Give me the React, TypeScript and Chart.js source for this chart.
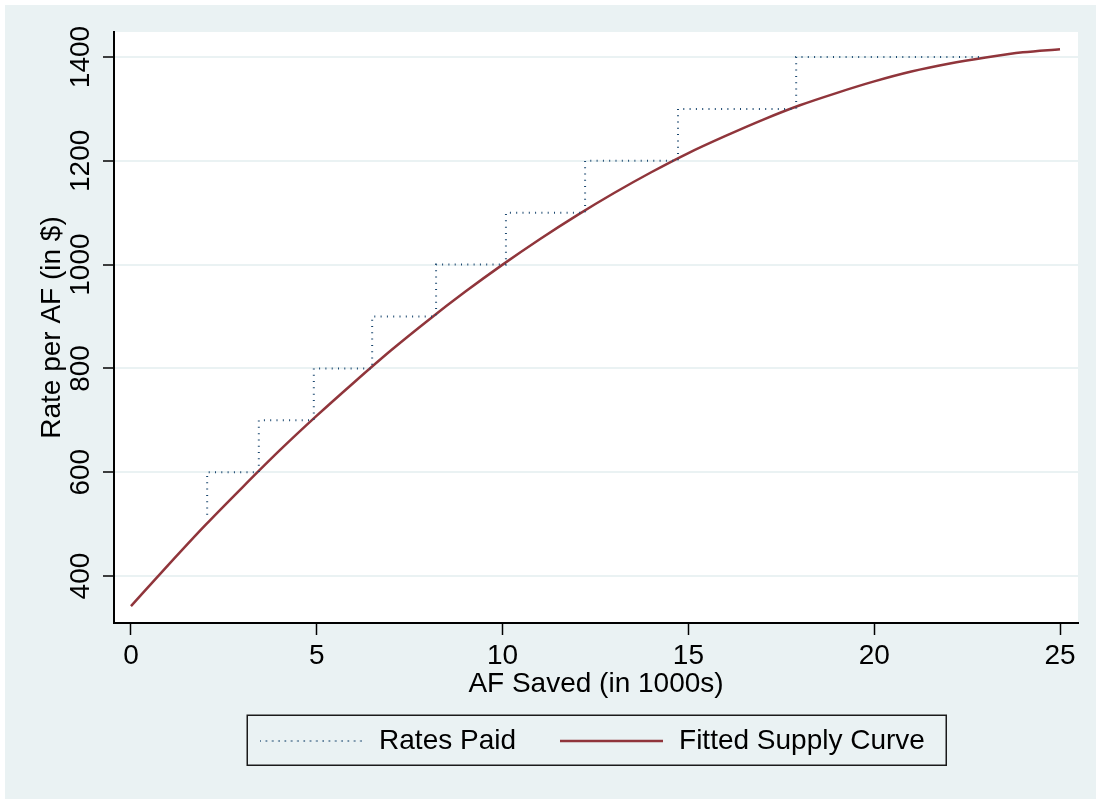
import React, { useEffect, useRef } from 'react';
import { Chart, registerables } from 'chart.js';

Chart.register(...registerables);

// ---- data ----
const seriesLabels = ['Rates Paid', 'Fitted Supply Curve'];
const xTitle = 'AF Saved (in 1000s)';
const yTitle = 'Rate per AF (in $)';

const xTicks = [0, 5, 10, 15, 20, 25];
const yTicks = [400, 600, 800, 1000, 1200, 1400];

// staircase "Rates Paid" corner points (horizontal run, then vertical rise)
const stepX = [2.05, 2.05, 3.44, 4.92, 6.49, 8.21, 10.09, 12.22, 14.72, 17.9, 22.85];
const stepY = [518, 600, 700, 800, 900, 1000, 1100, 1200, 1300, 1400, 1400];

// fitted supply curve read at integer x
const curveX = [0, 1, 2, 3, 4, 5, 6, 7, 8, 9, 10, 11, 12, 13, 14, 15, 16, 17, 18, 19, 20, 21, 22, 23, 24, 25];
const curveY = [342, 421, 498, 571, 642, 709, 773, 835, 893, 948, 1000, 1049, 1095, 1138, 1178, 1215, 1248, 1279, 1307, 1331, 1353, 1372, 1387, 1399, 1409, 1415];

const FONT_FAMILY = '"Liberation Sans", Arial, Helvetica, sans-serif';
const FONT_SIZE = 28;
const LEGEND_PAD = 41;
const LEGEND_BOX_W = 108;
const SAMPLE_W = 103;
const LEGEND_SHIFT = -5;

const NAVY = '#1a476f';
const MAROON = '#90353b';

function makeSample(color: string, width: number, dash: number[]) {
  const c = document.createElement('canvas');
  c.width = SAMPLE_W;
  c.height = 6;
  const g = c.getContext('2d')!;
  g.strokeStyle = color;
  g.lineWidth = width;
  g.setLineDash(dash);
  g.beginPath();
  g.moveTo(0, 3);
  g.lineTo(SAMPLE_W, 3);
  g.stroke();
  return c;
}

const bgPlugin = {
  id: 'stataBg',
  afterLayout(chart: any) {
    const lg = chart.legend;
    if (lg) {
      lg.left += LEGEND_SHIFT;
      lg.right += LEGEND_SHIFT;
    }
  },
  beforeDraw(chart: any) {
    const { ctx, width, height, chartArea } = chart;
    ctx.save();
    ctx.fillStyle = '#ffffff';
    ctx.fillRect(0, 0, width, height);
    ctx.fillStyle = '#eaf2f3';
    ctx.fillRect(5, 5, width - 5, height - 5);
    ctx.fillStyle = '#ffffff';
    ctx.fillRect(chartArea.left, chartArea.top, chartArea.right - chartArea.left, chartArea.bottom - chartArea.top);
    ctx.restore();
  },
  afterDraw(chart: any) {
    const lg = chart.legend;
    if (!lg || !lg.lineWidths) return;
    const { ctx } = chart;
    const lw = lg.lineWidths[0];
    const startX = (lg.left + LEGEND_PAD + lg.right - lw) / 2;
    const endX = startX + lw - LEGEND_PAD;
    const cy = lg.top + LEGEND_PAD + FONT_SIZE / 2;
    ctx.save();
    ctx.strokeStyle = '#1a1a1a';
    ctx.lineWidth = 1.5;
    ctx.setLineDash([]);
    ctx.strokeRect(Math.round(startX - 10) + 0.25, Math.round(cy - 26) + 0.25, Math.round(endX - startX + 31), 50);
    ctx.restore();
  },
};

export default function App() {
  const ref = useRef<HTMLCanvasElement>(null);

  useEffect(() => {
    const canvas = ref.current;
    if (!canvas) return;
    const font = { family: FONT_FAMILY, size: FONT_SIZE };
    const samples = [makeSample(NAVY, 2, [1, 5.3]), makeSample(MAROON, 2.5, [])];
    const chart = new Chart(canvas, {
      type: 'line',
      data: {
        datasets: [
          {
            label: seriesLabels[0],
            data: stepX.map((x, i) => ({ x, y: stepY[i] })),
            borderColor: NAVY,
            backgroundColor: NAVY,
            borderWidth: 2,
            borderDash: [1, 5.3],
            stepped: 'before',
            fill: false,
            pointRadius: 0,
          },
          {
            label: seriesLabels[1],
            data: curveX.map((x, i) => ({ x, y: curveY[i] })),
            borderColor: MAROON,
            backgroundColor: MAROON,
            borderWidth: 2.5,
            cubicInterpolationMode: 'monotone',
            fill: false,
            pointRadius: 0,
          },
        ],
      },
      options: {
        responsive: false,
        animation: false,
        devicePixelRatio: 1,
        layout: { padding: { left: 5, top: 32, right: 18, bottom: 34 } },
        plugins: {
          legend: {
            display: true,
            position: 'bottom',
            fullSize: false,
            align: 'center',
            labels: {
              usePointStyle: true,
              pointStyleWidth: LEGEND_BOX_W,
              padding: LEGEND_PAD,
              color: '#000',
              font,
              generateLabels: (ch: any) => {
                const items = (Chart as any).defaults.plugins.legend.labels.generateLabels(ch);
                items.forEach((it: any, i: number) => {
                  it.pointStyle = samples[i];
                });
                return items;
              },
            },
          },
          tooltip: { enabled: false },
          title: { display: false },
        },
        scales: {
          x: {
            type: 'linear',
            min: -0.457,
            max: 25.484,
            afterBuildTicks: (s: any) => {
              s.ticks = xTicks.map((v) => ({ value: v }));
            },
            afterFit: (s: any) => {
              s.height = 63;
            },
            ticks: {
              color: '#000',
              font,
              padding: 4,
              autoSkip: false,
              maxRotation: 0,
              callback: (v: any) => String(v),
            },
            grid: {
              display: true,
              drawOnChartArea: false,
              drawTicks: true,
              tickLength: 12,
              tickColor: '#000',
              tickWidth: 1.5,
            },
            border: { display: true, color: '#000', width: 2 },
            title: {
              display: true,
              text: xTitle,
              color: '#000',
              font,
              padding: { top: 0, bottom: -15 },
            },
          },
          y: {
            type: 'linear',
            min: 309.5,
            max: 1448.2,
            afterBuildTicks: (s: any) => {
              s.ticks = yTicks.map((v) => ({ value: v }));
            },
            afterFit: (s: any) => {
              s.width = 109;
            },
            ticks: {
              color: '#000',
              font,
              padding: -9,
              minRotation: 90,
              maxRotation: 90,
              crossAlign: 'center',
              autoSkip: false,
              callback: (v: any) => String(v),
            },
            grid: {
              color: '#eaf2f3',
              lineWidth: 2,
              drawTicks: true,
              tickLength: 11,
              tickColor: '#000',
              tickWidth: 1.5,
            },
            border: { display: true, color: '#000', width: 2 },
            title: {
              display: true,
              text: yTitle,
              color: '#000',
              font,
              padding: { top: 30, bottom: 0 },
            },
          },
        },
      } as any,
      plugins: [bgPlugin],
    } as any);
    return () => chart.destroy();
  }, []);

  return (
    <div style={{ position: 'fixed', left: 0, top: 0, width: 1096, height: 799 }}>
      <canvas ref={ref} width={1096} height={799} style={{ display: 'block', width: 1096, height: 799 }} />
    </div>
  );
}
